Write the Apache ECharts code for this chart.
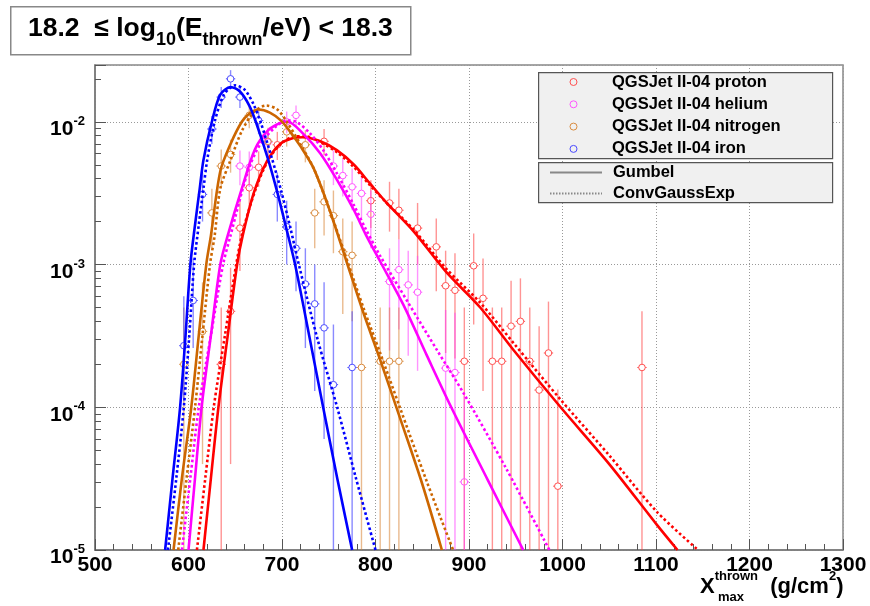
<!DOCTYPE html>
<html>
<head>
<meta charset="utf-8">
<title>Xmax thrown, QGSJet II-04</title>
<style>
    html,body{margin:0;padding:0;background:#fff;}
</style>
</head>
<body>
<div id="main" style="width:870px;height:606px;"></div>
<script src="https://cdn.jsdelivr.net/npm/echarts@6/dist/echarts.min.js"></script>
<script>
// ---- data: [Xmax, value] for the fits, [Xmax, value, low, high] for the histograms
var protonGumbel = [[616,1e-5],[624,3.2e-5],[632,1e-4],[642,3.2e-4],[652,1e-3],[658,1.6e-3],[670,3.2e-3],[684,5.3e-3],[698,7.0e-3],[712,7.7e-3],[722,7.8e-3],[741,7.3e-3],[759,6.3e-3],[777,5.0e-3],[794,3.7e-3],[812,2.7e-3],[841,1.7e-3],[876,8.8e-4],[912,5.0e-4],[948,2.5e-4],[998,1.0e-4],[1050,4.0e-5],[1101,1.5e-5],[1123,1e-5]];
var protonCGE = [[609,1e-5],[618,3.2e-5],[627,1e-4],[639,3.2e-4],[651,1e-3],[658,1.7e-3],[672,3.4e-3],[686,5.5e-3],[700,7.1e-3],[714,7.9e-3],[725,7.9e-3],[741,7.2e-3],[759,6.1e-3],[777,4.8e-3],[794,3.6e-3],[812,2.7e-3],[841,1.75e-3],[876,9.3e-4],[912,5.4e-4],[948,2.8e-4],[998,1.13e-4],[1050,4.6e-5],[1101,1.85e-5],[1145,1e-5]];
var heliumGumbel = [[600,1e-5],[607,3.2e-5],[614,1e-4],[624,3.2e-4],[634,1e-3],[642,1.6e-3],[657,3.4e-3],[671,6.4e-3],[685,8.7e-3],[698,9.8e-3],[706,1.0e-2],[723,8.2e-3],[741,6.0e-3],[759,3.9e-3],[777,2.4e-3],[790,1.6e-3],[805,1.05e-3],[830,5.2e-4],[855,2.3e-4],[881,1e-4],[920,3.1e-5],[958,1e-5]];
var heliumCGE = [[593,1e-5],[602,3.2e-5],[611,1e-4],[624,3.2e-4],[637,1e-3],[645,1.6e-3],[664,4.6e-3],[677,7.0e-3],[693,9.2e-3],[705,1.02e-2],[715,1.0e-2],[730,8.3e-3],[745,6.2e-3],[760,4.2e-3],[777,2.6e-3],[790,1.75e-3],[805,1.15e-3],[835,5.4e-4],[866,2.5e-4],[894,1.26e-4],[940,3.7e-5],[986,1e-5]];
var nitrogenGumbel = [[584,1e-5],[593,3.2e-5],[603,1e-4],[611,3.2e-4],[619,1e-3],[624,1.6e-3],[634,4.5e-3],[645,7.0e-3],[657,1.0e-2],[665,1.14e-2],[675,1.22e-2],[687,1.16e-2],[699,1.02e-2],[710,8.3e-3],[720,6.7e-3],[734,4.7e-3],[751,2.4e-3],[769,1.05e-3],[787,4.6e-4],[805,2.15e-4],[826,8.5e-5],[850,2.9e-5],[871,1e-5]];
var nitrogenCGE = [[589,1e-5],[598,3.2e-5],[607,1e-4],[615,3.2e-4],[623,1e-3],[628,1.6e-3],[634,3.4e-3],[645,5.4e-3],[657,8.6e-3],[670,1.17e-2],[683,1.3e-2],[695,1.22e-2],[706,9.8e-3],[720,6.9e-3],[734,4.7e-3],[751,2.4e-3],[769,1.1e-3],[787,5.0e-4],[805,2.4e-4],[826,1.0e-4],[855,3.0e-5],[883,1e-5]];
var ironGumbel = [[575,1e-5],[583,3.2e-5],[591,1e-4],[597,3.3e-4],[602,1e-3],[607,1.9e-3],[612,3.4e-3],[616,5.4e-3],[625,1.0e-2],[634,1.55e-2],[645,1.75e-2],[655,1.63e-2],[665,1.3e-2],[672,1.0e-2],[685,5.5e-3],[695,3.2e-3],[705,1.75e-3],[714,1.0e-3],[729,3.2e-4],[744,1.0e-4],[759,3.2e-5],[775,1e-5]];
var ironCGE = [[578,1e-5],[587,3.2e-5],[595,1e-4],[601,3.3e-4],[606,1e-3],[611,1.9e-3],[616,3.4e-3],[620,5.4e-3],[628,1.0e-2],[638,1.55e-2],[650,1.8e-2],[660,1.68e-2],[669,1.35e-2],[677,1.0e-2],[689,5.6e-3],[699,3.3e-3],[709,1.8e-3],[718,1.0e-3],[738,3.0e-4],[759,1.0e-4],[779,3.2e-5],[800,1e-5]];

var protonPts = [[635,2.0e-4,1e-6,5e-4],[645,4.7e-4,4e-5,9.5e-4],[655,1.8e-3,9e-4,2.8e-3],[665,3.45e-3,2.3e-3,4.7e-3],[675,4.8e-3,3.5e-3,6.2e-3],[695,6.9e-3,5.4e-3,8.5e-3],[745,7.3e-3,5.8e-3,8.9e-3],[795,2.8e-3,1.8e-3,3.9e-3],[815,2.7e-3,1.7e-3,3.8e-3],[825,2.4e-3,1.5e-3,3.4e-3],[845,1.8e-3,1.0e-3,2.7e-3],[865,1.33e-3,6.5e-4,2.1e-3],[875,7.1e-4,2.4e-4,1.25e-3],[885,6.6e-4,2.2e-4,1.2e-3],[895,2.1e-4,1e-6,5e-4],[905,9.8e-4,3.8e-4,1.65e-3],[915,5.8e-4,1.3e-4,1.1e-3],[925,2.1e-4,1e-6,5e-4],[935,2.1e-4,1e-6,5e-4],[945,3.7e-4,1e-6,7.7e-4],[955,4.0e-4,1e-6,8e-4],[965,2.1e-4,1e-6,5e-4],[975,1.32e-4,1e-6,3.7e-4],[985,2.4e-4,1e-6,5.5e-4],[995,2.8e-5,1e-6,1.33e-4],[1085,1.9e-4,1e-6,4.7e-4]];
var heliumPts = [[655,4.9e-3,3.6e-3,6.3e-3],[665,4.8e-3,3.5e-3,6.2e-3],[685,7.2e-3,5.7e-3,8.8e-3],[705,1.0e-2,8.3e-3,1.18e-2],[715,1.11e-2,9.3e-3,1.3e-2],[755,4.9e-3,3.6e-3,6.3e-3],[765,4.2e-3,3.0e-3,5.5e-3],[775,3.5e-3,2.4e-3,4.7e-3],[785,3.15e-3,2.1e-3,4.3e-3],[795,2.25e-3,1.3e-3,3.3e-3],[815,7.6e-4,2.5e-4,1.3e-3],[825,9.2e-4,3.5e-4,1.5e-3],[835,7.2e-4,2.3e-4,1.25e-3],[845,6.4e-4,1.8e-4,1.15e-3],[875,1.88e-4,1e-6,4.8e-4],[885,1.75e-4,1e-6,4.6e-4],[895,3.0e-5,1e-6,1.2e-4]];
var nitrogenPts = [[595,2.0e-4,1e-6,5e-4],[615,3.4e-4,4e-5,7.5e-4],[625,2.3e-3,1.3e-3,3.4e-3],[635,4.9e-3,3.5e-3,6.4e-3],[645,5.9e-3,4.4e-3,7.5e-3],[665,1.11e-2,9.0e-3,1.33e-2],[685,7.3e-3,5.6e-3,9.1e-3],[705,8.5e-3,6.7e-3,1.04e-2],[725,6.9e-3,5.2e-3,8.7e-3],[735,2.3e-3,1.3e-3,3.4e-3],[745,2.75e-3,1.6e-3,3.9e-3],[755,2.2e-3,1.2e-3,3.3e-3],[765,1.23e-3,4.5e-4,2.1e-3],[775,1.16e-3,4e-4,2.0e-3],[785,1.9e-4,1e-6,5e-4],[805,2.1e-4,1e-6,5e-4],[815,2.1e-4,1e-6,5e-4],[825,2.1e-4,1e-6,5e-4]];
var ironPts = [[595,2.7e-4,1.1e-4,6.0e-4],[605,5.6e-4,2.6e-4,1.1e-3],[615,3.1e-3,2.0e-3,4.4e-3],[625,8.9e-3,7.0e-3,1.1e-2],[635,1.49e-2,1.25e-2,1.75e-2],[645,2.0e-2,1.72e-2,2.3e-2],[655,1.49e-2,1.25e-2,1.75e-2],[675,1.02e-2,8.2e-3,1.22e-2],[695,3.1e-3,2.0e-3,4.4e-3],[705,1.84e-3,1.0e-3,2.8e-3],[715,1.3e-3,6.5e-4,2.0e-3],[725,7.3e-4,2.6e-4,1.3e-3],[735,5.3e-4,1.3e-4,1.0e-3],[745,3.6e-4,6e-5,7.5e-4],[755,1.44e-4,1e-6,3.8e-4],[775,1.9e-4,1e-6,4.7e-4]];

var names = ['QGSJet II-04 proton', 'QGSJet II-04 helium', 'QGSJet II-04 nitrogen', 'QGSJet II-04 iron'];
var fitNames = ['Gumbel', 'ConvGaussExp'];
var xTicks = [500, 1300, 100];   // min, max, step
var yRange = [1e-5, 0.025];

var FONT = '"Liberation Sans", Arial, Helvetica, sans-serif';
var lineCol = ['#ff0000', '#ff00ff', '#cc6600', '#0000ff'];
var markCol = ['#ff5050', '#ff55ff', '#d98c40', '#4a4aff'];
var barCol = ['rgba(255,60,60,0.55)', 'rgba(255,60,255,0.55)', 'rgba(215,130,50,0.55)', 'rgba(60,60,255,0.6)'];

var myChart = echarts.init(document.getElementById('main'), null, {renderer: 'canvas'});

// histogram point: open circle, horizontal bin bar, vertical error bar (not drawn through the marker)
function errorBars(i) {
    return function (params, api) {
        var x = api.value(0), y = api.value(1);
        var lo = Math.max(api.value(2), yRange[0]), hi = Math.min(api.value(3), yRange[1]);
        var c = api.coord([x, y]);
        var pHi = api.coord([x, hi])[1];
        var pLo = api.coord([x, lo])[1];
        var xl = api.coord([x - 5, y])[0], xr = api.coord([x + 5, y])[0];
        var r = 3.3;
        var kids = [];
        if (pHi < c[1] - r) kids.push({type: 'line', shape: {x1: c[0], y1: pHi, x2: c[0], y2: c[1] - r}, style: {stroke: barCol[i], lineWidth: 1.4}});
        if (pLo > c[1] + r) kids.push({type: 'line', shape: {x1: c[0], y1: c[1] + r, x2: c[0], y2: pLo}, style: {stroke: barCol[i], lineWidth: 1.4}});
        kids.push({type: 'line', shape: {x1: xl, y1: c[1], x2: c[0] - r, y2: c[1]}, style: {stroke: markCol[i], lineWidth: 1}});
        kids.push({type: 'line', shape: {x1: c[0] + r, y1: c[1], x2: xr, y2: c[1]}, style: {stroke: markCol[i], lineWidth: 1}});
        kids.push({type: 'circle', shape: {cx: c[0], cy: c[1], r: r}, style: {stroke: markCol[i], fill: null, lineWidth: 1}});
        return {type: 'group', children: kids};
    };
}

function fitLine(name, data, color, dotted) {
    return {
        name: name, type: 'line', data: data, smooth: 0.3,
        showSymbol: false, symbol: 'none', silent: true, z: 4, clip: true,
        lineStyle: {color: color, width: 2.6, type: dotted ? [2.6, 2.6] : 'solid'}
    };
}

var ptsData = [protonPts, heliumPts, nitrogenPts, ironPts];
var gumbels = [protonGumbel, heliumGumbel, nitrogenGumbel, ironGumbel];
var cges = [protonCGE, heliumCGE, nitrogenCGE, ironCGE];

var series = [];
for (var i = 0; i < 4; i++) {
    series.push({
        name: names[i], type: 'custom', data: ptsData[i], renderItem: errorBars(i),
        encode: {x: 0, y: 1}, z: 3, silent: true, clip: true,
        itemStyle: {color: markCol[i]}
    });
}
for (var i = 0; i < 4; i++) {
    series.push(fitLine('g' + i, gumbels[i], lineCol[i], false));
    series.push(fitLine('c' + i, cges[i], lineCol[i], true));
}
// legend-only entries for the two fit shapes
series.push({name: fitNames[0], type: 'line', data: [], symbol: 'none', itemStyle: {color: '#888'}, lineStyle: {color: '#888', width: 1.5}});
series.push({name: fitNames[1], type: 'line', data: [], symbol: 'none', itemStyle: {color: '#888'}, lineStyle: {color: '#888', width: 1.5, type: [1.5, 1.5]}});

var rich = {
    a: {fontSize: 26.5, fontWeight: 'bold', fontFamily: FONT, lineHeight: 30, verticalAlign: 'top', color: '#000'},
    sub: {fontSize: 18, fontWeight: 'bold', fontFamily: FONT, lineHeight: 18, padding: [16, 0, 0, 0], verticalAlign: 'top', color: '#000'}
};

myChart.setOption({
    animation: false,
    backgroundColor: '#fff',
    grid: {left: 95, right: 27, top: 65, bottom: 56, show: true, borderColor: '#888', borderWidth: 1.5, backgroundColor: 'transparent'},
    xAxis: {
        type: 'value', min: xTicks[0], max: xTicks[1], interval: xTicks[2],
        axisLine: {lineStyle: {color: '#777', width: 1.5}},
        axisTick: {inside: true, length: 11, lineStyle: {color: '#555'}},
        minorTick: {show: true, splitNumber: 5, length: 6, lineStyle: {color: '#555'}},
        splitLine: {show: true, lineStyle: {color: '#999', type: [1, 2], width: 1}},
        axisLabel: {fontSize: 21, fontWeight: 'bold', fontFamily: FONT, color: '#000', margin: 5,
            formatter: function (v) { return String(v); }}
    },
    yAxis: {
        type: 'log', logBase: 10, min: yRange[0], max: yRange[1],
        axisLine: {lineStyle: {color: '#777', width: 1.5}},
        axisTick: {inside: true, length: 11, lineStyle: {color: '#555'}},
        minorTick: {show: true, splitNumber: 9, length: 6, lineStyle: {color: '#555'}},
        splitLine: {show: true, lineStyle: {color: '#999', type: [1, 2], width: 1}},
        axisLabel: {
            showMaxLabel: false, margin: 10,
            formatter: function (v) {
                var e = Math.log10(v);
                if (Math.abs(e - Math.round(e)) > 1e-6) return '';
                return '{b|10}{s|' + Math.round(e) + '}';
            },
            rich: {
                b: {fontSize: 21, fontWeight: 'bold', fontFamily: FONT, color: '#000', lineHeight: 22, padding: [8, 0, 0, 0], verticalAlign: 'top'},
                s: {fontSize: 13, fontWeight: 'bold', fontFamily: FONT, color: '#000', lineHeight: 13, padding: [4, 0, 0, 0], verticalAlign: 'top'}
            }
        }
    },
    legend: [{
        data: names.map(function (n, i) {
            return {name: n, icon: 'circle', itemStyle: {color: 'rgba(0,0,0,0)', borderColor: markCol[i], borderWidth: 1}};
        }),
        orient: 'vertical', left: 569.5, top: 73.5, padding: 0, itemWidth: 7, itemHeight: 7, itemGap: 5.3,
        selectedMode: false,
        textStyle: {fontSize: 16.5, fontWeight: 'bold', fontFamily: FONT, color: '#000', lineHeight: 16, padding: [0, 0, 0, 30]}
    }, {
        data: fitNames, orient: 'vertical', left: 549, top: 164, padding: 0, itemWidth: 52, itemHeight: 10, itemGap: 4,
        selectedMode: false,
        itemStyle: {color: 'rgba(0,0,0,0)', borderColor: 'rgba(0,0,0,0)', borderWidth: 0},
        textStyle: {fontSize: 16.5, fontWeight: 'bold', fontFamily: FONT, color: '#000', lineHeight: 16, padding: [0, 0, 0, 6]}
    }],
    graphic: [
        {type: 'rect', left: 10, top: 6, z: 10, shape: {width: 400, height: 48}, style: {fill: '#fff', stroke: '#888', lineWidth: 1.5}},
        {type: 'text', left: 28, top: 15, z: 11, style: {
            text: '{a|18.2  ≤ log}{sub|10}{a|(E}{sub|thrown}{a|/eV) < 18.3}', rich: rich
        }},
        {type: 'rect', left: 538, top: 72, z: 1, shape: {width: 294, height: 86}, style: {fill: '#f0f0f0', stroke: '#555', lineWidth: 1.2}},
        {type: 'rect', left: 538, top: 162, z: 1, shape: {width: 294, height: 40}, style: {fill: '#f0f0f0', stroke: '#555', lineWidth: 1.2}},
        {type: 'text', left: 700, top: 568, z: 11, style: {
            text: '{X|X}{sup|thrown}{X|  (g/cm}{sup|2}{X|)}',
            rich: {
                X: {fontSize: 22, fontWeight: 'bold', fontFamily: FONT, color: '#000', lineHeight: 24, padding: [8, 0, 0, 0], verticalAlign: 'top'},
                sup: {fontSize: 13, fontWeight: 'bold', fontFamily: FONT, color: '#000', lineHeight: 13, padding: [2, 0, 0, 0], verticalAlign: 'top'}
            }
        }},
        {type: 'text', left: 718, top: 591, z: 11, style: {text: 'max', fontSize: 13, fontWeight: 'bold', fontFamily: FONT, fill: '#000'}}
    ],
    series: series
});
</script>
</body>
</html>
